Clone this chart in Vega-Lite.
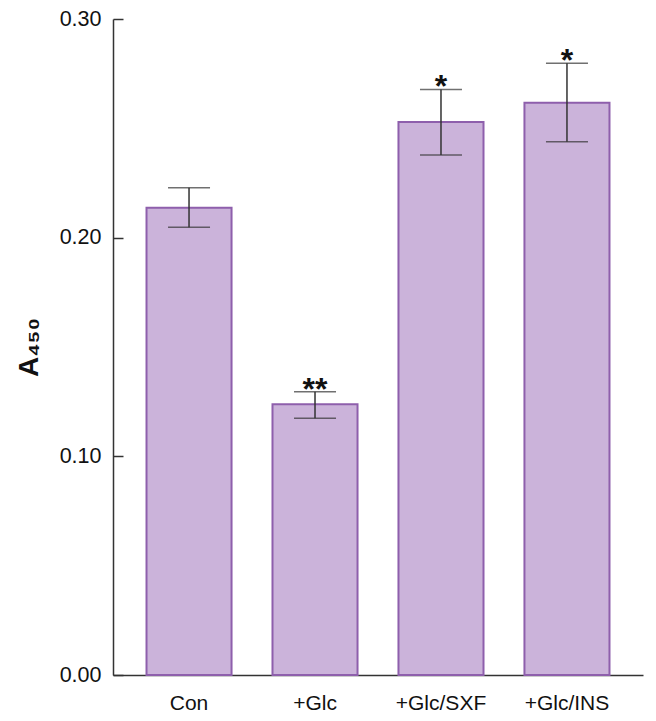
{
  "$schema": "https://vega.github.io/schema/vega-lite/v6.json",
  "width": 530,
  "height": 656,
  "autosize": {"type": "none"},
  "padding": {"left": 113, "top": 19, "right": 13, "bottom": 46},
  "background": "white",
  "config": {
    "view": {"stroke": null},
    "font": "Liberation Sans",
    "axis": {"grid": false, "domainColor": "#333333", "domainWidth": 1.5, "tickColor": "#333333", "tickWidth": 1.5, "labelColor": "#111111", "titleColor": "#111111", "labelFont": "Liberation Sans", "titleFont": "Liberation Sans"}
  },
  "data": {
    "values": [
      {"group": "Con", "mean": 0.2137, "lo": 0.2048, "hi": 0.2228, "sig": ""},
      {"group": "+Glc", "mean": 0.1238, "lo": 0.1174, "hi": 0.1295, "sig": "**"},
      {"group": "+Glc/SXF", "mean": 0.2529, "lo": 0.2378, "hi": 0.2678, "sig": "*"},
      {"group": "+Glc/INS", "mean": 0.2617, "lo": 0.2439, "hi": 0.2798, "sig": "*"}
    ]
  },
  "encoding": {
    "x": {
      "field": "group", "type": "nominal", "sort": null,
      "scale": {"paddingInner": 0.325, "paddingOuter": 0.266},
      "axis": {"title": null, "labelAngle": 0, "ticks": false, "labelFontSize": 21, "labelPadding": 17}
    }
  },
  "layer": [
    {
      "mark": {"type": "bar", "fill": "#cbb3da", "stroke": "#8e5fac", "strokeWidth": 2},
      "encoding": {
        "y": {
          "field": "mean", "type": "quantitative",
          "scale": {"domain": [0, 0.3], "nice": false},
          "axis": {"title": "A₄₅₀", "titleFontSize": 28, "titleFontWeight": "bold", "titlePadding": 16, "values": [0, 0.1, 0.2, 0.3], "format": ".2f", "labelFontSize": 21.5, "tickSize": -10, "labelPadding": 22}
        }
      }
    },
    {
      "mark": {"type": "rule", "color": "#333333", "strokeWidth": 1.5},
      "encoding": {"y": {"field": "lo", "type": "quantitative"}, "y2": {"field": "hi"}}
    },
    {
      "mark": {"type": "tick", "color": "#333333", "thickness": 1.5, "size": 42},
      "encoding": {"y": {"field": "lo", "type": "quantitative"}}
    },
    {
      "mark": {"type": "tick", "color": "#333333", "thickness": 1.5, "size": 42},
      "encoding": {"y": {"field": "hi", "type": "quantitative"}}
    },
    {
      "mark": {"type": "text", "fontSize": 32, "fontWeight": "bold", "color": "#111111", "baseline": "alphabetic", "dy": 8},
      "encoding": {"y": {"field": "hi", "type": "quantitative"}, "text": {"field": "sig"}}
    }
  ]
}
